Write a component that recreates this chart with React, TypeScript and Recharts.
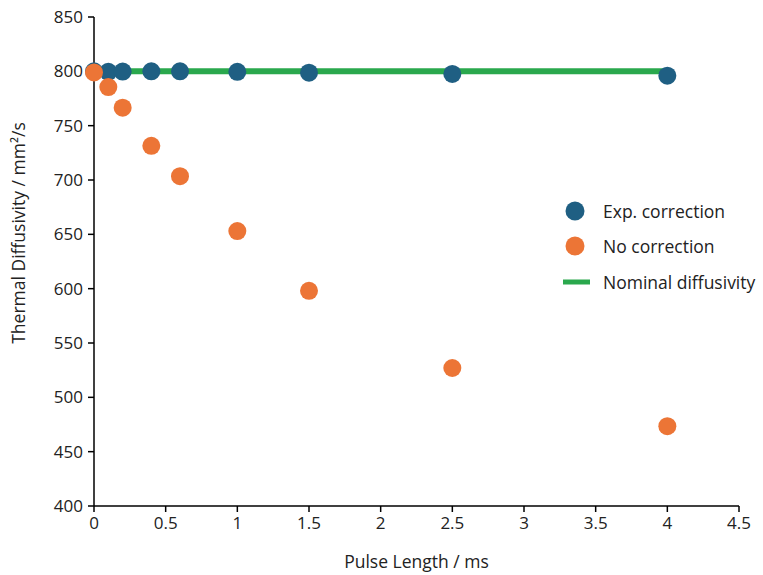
import { ComposedChart, Scatter, Line, XAxis, YAxis } from 'recharts'

const pulseLengths = [0, 0.1, 0.2, 0.4, 0.6, 1, 1.5, 2.5, 4]
const expCorrection = [800, 799.6, 799.8, 800, 800, 799.6, 798.8, 797.6, 796]
const noCorrection = [799, 785.5, 766.5, 731.5, 703.5, 653, 598, 527, 473.5]
const nominalX = [0, 4]
const nominalY = [800, 800]

const xTicks = [0, 0.5, 1, 1.5, 2, 2.5, 3, 3.5, 4, 4.5]
const yTicks = [400, 450, 500, 550, 600, 650, 700, 750, 800, 850]

const BLUE = '#1f5f83'
const ORANGE = '#ec7536'
const GREEN = '#2aa84d'
const FONT = '"Open Sans", "Noto Sans", sans-serif'

const expData = pulseLengths.map((x, i) => ({ x, y: expCorrection[i] }))
const noData = pulseLengths.map((x, i) => ({ x, y: noCorrection[i] }))
const nominalData = nominalX.map((x, i) => ({ x, y: nominalY[i] }))

const legendItems = [
  { label: 'Exp. correction', color: BLUE, kind: 'dot' },
  { label: 'No correction', color: ORANGE, kind: 'dot' },
  { label: 'Nominal diffusivity', color: GREEN, kind: 'line' },
]

const dot = (color: string) => (props: any) =>
  <circle cx={props.cx} cy={props.cy} r={9} fill={color} />

function LegendBox() {
  return (
    <div
      style={{
        position: 'absolute', left: 563, top: 193,
        fontFamily: FONT, fontSize: 17.5, color: '#222', whiteSpace: 'nowrap',
      }}
    >
      {legendItems.map((it) => (
        <div key={it.label} style={{ display: 'flex', alignItems: 'center', height: 35.5 }}>
          <svg width={40} height={20}>
            {it.kind === 'dot'
              ? <circle cx={12} cy={10} r={9.5} fill={it.color} />
              : <rect x={0} y={7.5} width={27} height={5} fill={it.color} />}
          </svg>
          <span>{it.label}</span>
        </div>
      ))}
    </div>
  )
}

export default function App() {
  return (
    <div style={{ position: 'absolute', left: 0, top: 0, width: 763, height: 575, background: '#fff' }}>
      <ComposedChart
        width={763}
        height={575}
        margin={{ top: 17, right: 24, bottom: 0, left: 20 }}
        style={{ fontFamily: FONT }}
      >
        <XAxis
          type="number"
          dataKey="x"
          domain={[0, 4.5]}
          ticks={xTicks}
          height={69}
          stroke="#000"
          strokeWidth={1.5}
          tickSize={6}
          tickMargin={5}
          tick={{ fill: '#222', fontSize: 17 }}
          label={{ value: 'Pulse Length / ms', position: 'insideBottom', offset: 7, fill: '#222', fontSize: 17.5 }}
        />
        <YAxis
          type="number"
          domain={[400, 850]}
          ticks={yTicks}
          width={74}
          stroke="#000"
          strokeWidth={1.5}
          tickSize={6}
          tickMargin={5}
          tick={{ fill: '#222', fontSize: 17 }}
          label={() => {
            const cy = 233
            return (
              <text
                x={18}
                y={cy}
                transform={`rotate(-90 18 ${cy})`}
                textAnchor="middle"
                dominantBaseline="central"
                fill="#222"
                fontSize={17.5}
              >
                Thermal Diffusivity / mm²/s
              </text>
            )
          }}
        />
        <Line
          data={nominalData}
          dataKey="y"
          stroke={GREEN}
          strokeWidth={6}
          dot={false}
          isAnimationActive={false}
        />
        <Scatter data={expData} dataKey="y" shape={dot(BLUE)} isAnimationActive={false} />
        <Scatter data={noData} dataKey="y" shape={dot(ORANGE)} isAnimationActive={false} />
      </ComposedChart>
      <LegendBox />
    </div>
  )
}
